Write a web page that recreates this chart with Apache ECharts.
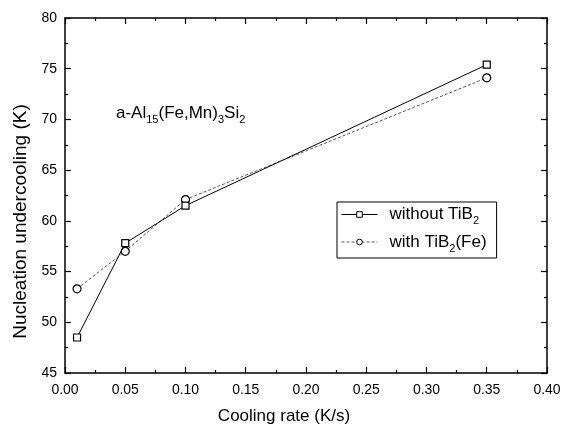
<!DOCTYPE html>
<html>
<head>
<meta charset="utf-8">
<script src="https://cdn.jsdelivr.net/npm/echarts@6/dist/echarts.min.js"></script>
<style>html,body{margin:0;padding:0;background:#fff;}#c{width:567px;height:425px;}</style>
</head>
<body>
<div id="c"></div>
<script>
const coolingRate = [0.01, 0.05, 0.10, 0.35];
const withoutTiB2 = [48.5, 57.8, 61.5, 75.4];
const withTiB2Fe = [53.3, 57.0, 62.1, 74.1];
const seriesNames = ['without TiB2', 'with TiB2(Fe)'];
const xTitle = 'Cooling rate (K/s)';
const yTitle = 'Nucleation undercooling (K)';

const FONT = '"Liberation Sans", Arial, sans-serif';
const chart = echarts.init(document.getElementById('c'), null, {renderer: 'canvas'});

const axisCommon = {
  axisLine: {show: true, onZero: false, lineStyle: {color: '#000', width: 1.5}},
  axisTick: {show: true, inside: true, length: 6, lineStyle: {color: '#000', width: 1.2}},
  minorTick: {show: true, splitNumber: 2, length: 3, lineStyle: {color: '#000', width: 1.2}},
  splitLine: {show: false}
};

const option = {
  backgroundColor: '#fff',
  animation: false,
  grid: {left: 65, right: 20, top: 18, bottom: 52, containLabel: false, outerBoundsMode: 'none'},
  xAxis: [
    Object.assign({
      type: 'value', min: 0, max: 0.4, interval: 0.05, position: 'bottom',
      name: xTitle, nameLocation: 'middle', nameGap: 35,
      nameTextStyle: {fontFamily: FONT, fontSize: 17, color: '#000', padding: [0, 44, 0, 0]},
      axisLabel: {fontFamily: FONT, fontSize: 14, color: '#000', margin: 10,
        formatter: v => v.toFixed(2)}
    }, axisCommon),
    Object.assign({
      type: 'value', min: 0, max: 0.4, interval: 0.05, position: 'top',
      axisLabel: {show: false}
    }, axisCommon)
  ],
  yAxis: [
    Object.assign({
      type: 'value', min: 45, max: 80, interval: 5, position: 'left',
      name: yTitle, nameLocation: 'middle', nameGap: 27, nameRotate: 90,
      nameTextStyle: {fontFamily: FONT, fontSize: 19, color: '#000', padding: [0, 52, 0, 0]},
      axisLabel: {fontFamily: FONT, fontSize: 14, color: '#000', margin: 8}
    }, axisCommon),
    Object.assign({
      type: 'value', min: 45, max: 80, interval: 5, position: 'right',
      axisLabel: {show: false}
    }, axisCommon)
  ],
  legend: {
    orient: 'vertical', left: 337, top: 202,
    padding: [4, 10, 4, 4],
    borderColor: '#000', borderWidth: 1, borderRadius: 0,
    backgroundColor: '#fff',
    itemWidth: 36, itemHeight: 7, itemGap: 7,
    lineStyle: {width: 1},
    itemStyle: {borderWidth: 1},
    data: seriesNames,
    formatter: function (name) {
      if (name === seriesNames[0]) return '{m|without TiB}{s|2}';
      return '{m|with TiB}{s|2}{m|(Fe)}';
    },
    textStyle: {
      fontFamily: FONT, fontSize: 17, color: '#000', padding: [0, 0, 0, 7],
      rich: {
        m: {fontFamily: FONT, fontSize: 17, color: '#000'},
        s: {fontFamily: FONT, fontSize: 11, color: '#000', padding: [13, 0, 0, 0]}
      }
    }
  },
  graphic: [{
    type: 'text', left: 116, top: 105,
    style: {
      text: '{m|a-Al}{s|15}{m|(Fe,Mn)}{s|3}{m|Si}{s|2}',
      rich: {
        m: {fontFamily: FONT, fontSize: 17, fill: '#000'},
        s: {fontFamily: FONT, fontSize: 11, fill: '#000', padding: [13, 0, 0, 0]}
      }
    }
  }],
  series: [
    {
      name: seriesNames[0], type: 'line',
      data: coolingRate.map((x, i) => [x, withoutTiB2[i]]),
      symbol: 'rect', symbolSize: 7,
      lineStyle: {color: '#000', width: 1, type: 'solid'},
      itemStyle: {color: '#fff', borderColor: '#000', borderWidth: 1.2},
      z: 3
    },
    {
      name: seriesNames[1], type: 'line',
      data: coolingRate.map((x, i) => [x, withTiB2Fe[i]]),
      symbol: 'circle', symbolSize: 8,
      lineStyle: {color: '#555', width: 1, type: [3, 2]},
      itemStyle: {color: '#fff', borderColor: '#000', borderWidth: 1.2},
      z: 2
    }
  ]
};
chart.setOption(option);
</script>
</body>
</html>
